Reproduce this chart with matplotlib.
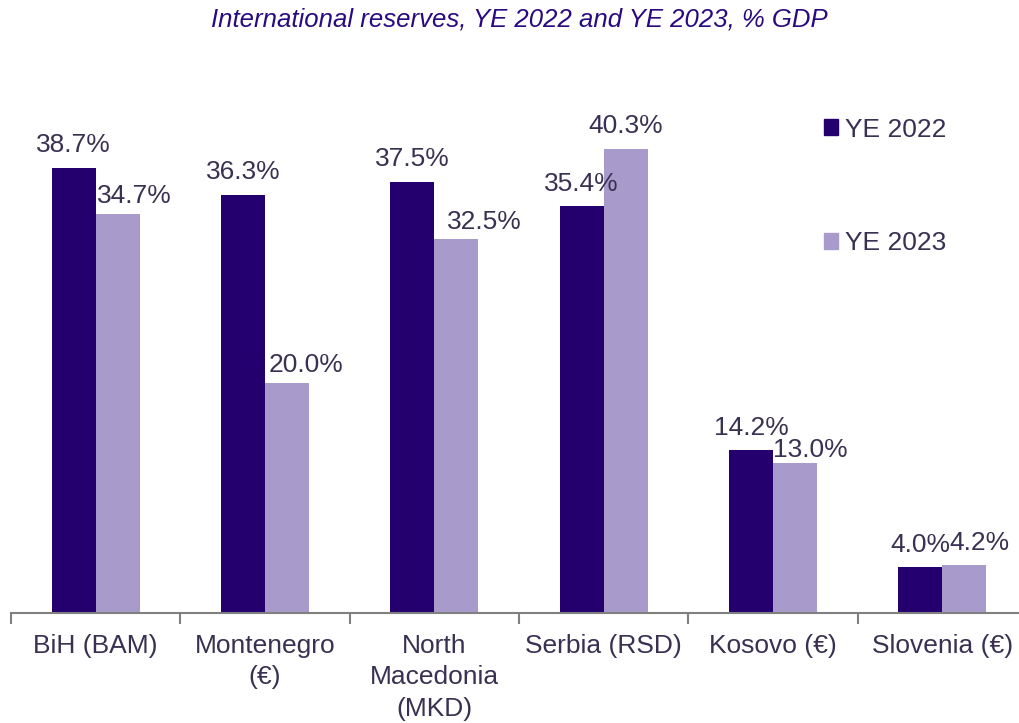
import numpy as np
import matplotlib
matplotlib.use('Agg')
import matplotlib.pyplot as plt
from matplotlib.patches import Patch

plt.rcParams['font.family'] = ['Liberation Sans', 'DejaVu Sans']

categories = ['BiH (BAM)', 'Montenegro\n(€)', 'North\nMacedonia\n(MKD)',
              'Serbia (RSD)', 'Kosovo (€)', 'Slovenia (€)']
ye2022 = [38.7, 36.3, 37.5, 35.4, 14.2, 4.0]
ye2023 = [34.7, 20.0, 32.5, 40.3, 13.0, 4.2]

# label nudges (points), as placed in the original
dx22 = [0, 0, 0, 0, 0, 0]
dy22 = [8, 8, 8, 7, 7, 7]
dx23 = [12, 14, 20, 0, 11, 11]
dy23 = [4, 4, 4, 8, 1, 7]

c22 = '#24006e'
c23 = '#a89acb'
txt = '#3a3152'
fs = 19

fig = plt.figure(figsize=(10.2, 7.23), dpi=100)
ax = fig.add_axes([11/1020, 1-613/723, 1016/1020, 513/723])

x = np.arange(len(categories))
w = 0.26
b1 = ax.bar(x - w/2, ye2022, w, color=c22)
b2 = ax.bar(x + w/2, ye2023, w, color=c23)

for bars, vals, dx, dy in ((b1, ye2022, dx22, dy22), (b2, ye2023, dx23, dy23)):
    for r, v, ox, oy in zip(bars, vals, dx, dy):
        ax.annotate('{:.1f}%'.format(v), (r.get_x() + r.get_width()/2, v),
                    xytext=(ox, oy), textcoords='offset points',
                    ha='center', va='bottom', fontsize=fs, color=txt)

ax.set_xlim(-0.5, len(categories) - 0.5)
ax.set_ylim(0, 44.6)
ax.set_yticks([])
ax.set_xticks(x)
ax.set_xticklabels(categories, fontsize=fs, color=txt, va='top', linespacing=1.4)
ax.tick_params(axis='x', which='major', length=0, pad=15)
ax.set_xticks(np.arange(len(categories) + 1) - 0.5, minor=True)
ax.tick_params(axis='x', which='minor', length=8, direction='out', color='#808080', width=1.5)
for s in ['top', 'left', 'right']:
    ax.spines[s].set_visible(False)
ax.spines['bottom'].set_color('#808080')
ax.spines['bottom'].set_linewidth(1.5)

handles = [Patch(color=c22), Patch(color=c23)]
leg = fig.legend(handles, ['YE 2022', 'YE 2023'], loc='upper left',
                 bbox_to_anchor=(800/1020, 1-94/723), frameon=False,
                 fontsize=fs, handlelength=0.55, handleheight=0.55,
                 handletextpad=0.25, labelspacing=3.4)
for t in leg.get_texts():
    t.set_color(txt)

fig.text(519/1020, 1-19/723, 'International reserves, YE 2022 and YE 2023, % GDP',
         ha='center', va='center', fontsize=18.5, style='italic', color='#2a0a80')

fig.savefig('out.png', dpi=100)
